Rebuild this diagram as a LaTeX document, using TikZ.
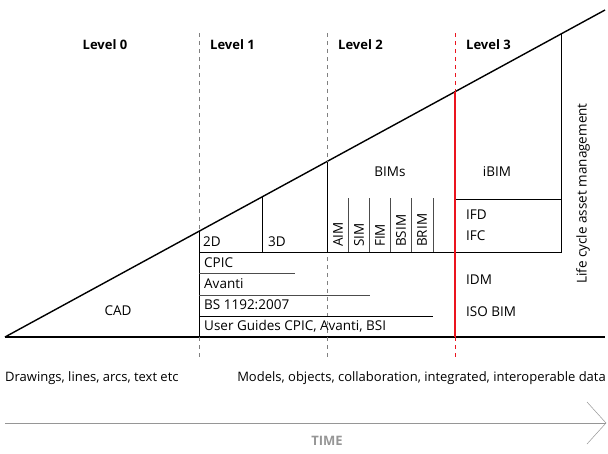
\documentclass[tikz,border=0pt]{standalone}
\usepackage{fontspec}
\setmainfont{Open Sans}
\usepackage{xcolor}
\usepackage{tikz}
\usetikzlibrary{calc}
\definecolor{lvlred}{RGB}{235,20,30}
\definecolor{timegray}{RGB}{150,150,150}

\begin{document}
\begin{tikzpicture}[x=1pt, y=-1pt, every node/.style={font=\fontsize{13.5}{15}\selectfont, inner sep=0pt},
  lvl/.style={font=\bfseries\fontsize{13}{15}\selectfont},
  lbl/.style={anchor=west},
  vlbl/.style={rotate=90, anchor=west},
  sep/.style={dash pattern=on 4pt off 4pt, line width=0.7pt},
  sub/.style={draw=black!70, line width=0.7pt}]
\useasboundingbox (0,0) rectangle (608,453);

% the big wedge
\coordinate (o) at (5,337);
\coordinate (tip) at (605,10);
\coordinate (end) at (605,337);
\draw[line width=1.4pt] (o) -- (tip);
\draw[line width=1.4pt] (o) -- (end);

% level separators
\draw[sep, gray] (199,33) -- (199,360);
\draw[sep, gray] (327,33) -- (327,360);
\draw[sep, lvlred, line width=1pt] (455,33) -- (455,360);

\node (lvl0) [lvl] at (105,45) {Level 0};
\node (lvl1) [lvl, anchor=west] at (210,45) {Level 1};
\node (lvl2) [lvl, anchor=west] at (338,45) {Level 2};
\node (lvl3) [lvl, anchor=west] at (466,45) {Level 3};

% points on the slope
\coordinate (d1) at ($(o)!{194/600}!(tip)$);
\coordinate (d3D) at ($(o)!{257/600}!(tip)$);
\coordinate (d2) at ($(o)!{322/600}!(tip)$);
\coordinate (d3) at ($(o)!{450/600}!(tip)$);
\coordinate (dlc) at ($(o)!{556/600}!(tip)$);

% level 1
\draw[line width=0.8pt] (d1) -- (d1 |- o);
\draw[line width=0.8pt] (d3D) -- (d3D |- 0,252);
\draw[line width=0.8pt] (199,252) -- (562,252);
\draw[sub] (199,273) -- (295,273);
\draw[sub] (199,295) -- (370,295);
\draw[line width=0.8pt] (199,316) -- (433,316);

% level 2
\draw[line width=0.8pt] (d2) -- (d2 |- 0,252);
\foreach \x in {348,369,390,411,433}
  \draw[sub] (\x,198) -- (\x,252);

% level 3
\draw[line width=0.8pt] (dlc) -- (dlc |- 0,252);
\draw[line width=0.8pt] (455,199) -- (562,199);
\draw[lvlred, line width=1.1pt] (d3) -- (d3 |- o);

\node (cad) at (118,311) {CAD};
\node (twoD) [lbl] at (203,242) {2D};
\node (threeD) [lbl] at (268,242) {3D};
\node (cpic) [lbl] at (204,263) {CPIC};
\node (avanti) [lbl] at (204,284) {Avanti};
\node (bs) [lbl] at (204,305) {BS 1192:2007};
\node (guides) [lbl] at (204,326) {User Guides CPIC, Avanti, BSI};

\node (bims) at (390,172) {BIMs};
\node (aim) [vlbl] at (338,247) {AIM};
\node (sim) [vlbl] at (359,247) {SIM};
\node (fim) [vlbl] at (380,247) {FIM};
\node (bsim) [vlbl] at (401,247) {BSIM};
\node (brim) [vlbl] at (422,247) {BRIM};

\node (ibim) at (497,172) {iBIM};
\node (ifd) [lbl] at (466,215) {IFD};
\node (ifc) [lbl] at (466,236) {IFC};
\node (idm) [lbl] at (466,280) {IDM};
\node (iso) [lbl] at (466,312) {ISO BIM};
\node (life) [vlbl] at (583,284) {Life cycle asset management};

\node (drw) [lbl, font=\fontsize{13}{15}\selectfont] at (5,378) {Drawings, lines, arcs, text etc};
\node (mdl) [anchor=east, font=\fontsize{13}{15}\selectfont] at (606,378) {Models, objects, collaboration, integrated, interoperable data};

% time axis
\coordinate (t0) at (5,423);
\coordinate (t1) at (606,423);
\draw[timegray, line width=0.6pt] (t0) -- (t1);
\draw[timegray, line width=0.5pt] (587,402) -- (t1) -- (587,444);
\node (time) [text=timegray, font=\bfseries\fontsize{13}{15}\selectfont] at (327,441) {TIME};
\end{tikzpicture}
\end{document}
